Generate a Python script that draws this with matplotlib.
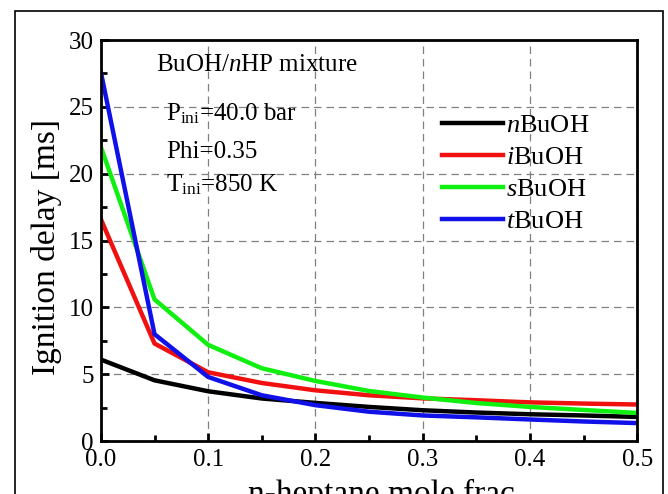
import matplotlib
matplotlib.use("Agg")
import matplotlib.pyplot as plt
from matplotlib.patches import Rectangle
from matplotlib.ticker import MultipleLocator

plt.rcParams['font.family'] = ['Liberation Serif', 'DejaVu Serif']
plt.rcParams['mathtext.fontset'] = 'custom'
plt.rcParams['mathtext.rm'] = 'Liberation Serif'
plt.rcParams['mathtext.it'] = 'Liberation Serif:italic'

# n-heptane mole fraction in the blend
x_nhp = [0.0, 0.05, 0.1, 0.15, 0.2, 0.25, 0.3, 0.35, 0.4, 0.45, 0.5]

# ignition delay [ms] for each butanol isomer
tau_n = [6.1, 4.55, 3.73, 3.19, 2.86, 2.56, 2.31, 2.14, 2.01, 1.92, 1.81]
tau_i = [16.6, 7.3, 5.15, 4.35, 3.8, 3.43, 3.2, 3.06, 2.9, 2.81, 2.74]
tau_s = [22.0, 10.6, 7.2, 5.45, 4.5, 3.75, 3.26, 2.85, 2.56, 2.33, 2.11]
tau_t = [27.6, 8.0, 4.8, 3.43, 2.69, 2.2, 1.92, 1.78, 1.62, 1.47, 1.35]

labels = [r'$n$BuOH', r'$i$BuOH', r'$s$BuOH', r'$t$BuOH']
colors = ['black', '#f01010', '#10f010', '#1010e8']

fig = plt.figure(figsize=(6.68, 4.94), dpi=100)
ax = fig.add_axes([0.151, 0.107, 0.803, 0.812])

# thin frame around the whole figure
fig.patches.append(Rectangle((0.0225, -0.2), 0.970, 1.1777, transform=fig.transFigure,
                             fill=False, edgecolor='black', linewidth=1.2))

for tau, lab, c in zip([tau_n, tau_i, tau_s, tau_t], labels, colors):
    ax.plot(x_nhp, tau, color=c, lw=3.2, label=lab)

ax.set_xlim(0, 0.5)
ax.set_ylim(0, 30)
ax.xaxis.set_major_locator(MultipleLocator(0.1))
ax.xaxis.set_minor_locator(MultipleLocator(0.05))
ax.yaxis.set_major_locator(MultipleLocator(5))
ax.yaxis.set_minor_locator(MultipleLocator(2.5))
ax.xaxis.set_major_formatter(matplotlib.ticker.FormatStrFormatter('%.1f'))
ax.tick_params(which='both', direction='in', top=False, right=False, labelsize=18,
               width=2)
ax.tick_params(axis='x', pad=6)
ax.tick_params(axis='y', pad=5)
ax.tick_params(which='major', length=6)
ax.tick_params(which='minor', length=4)
for sp in ax.spines.values():
    sp.set_linewidth(2)

ax.grid(True, which='major', color='#808080', linestyle=(0, (6, 4)), linewidth=0.9)

ax.set_xlabel('n-heptane mole frac.', fontsize=24, labelpad=8)
ax.xaxis.set_label_coords(0.53, -0.095, transform=ax.transAxes)
ax.xaxis.label.set_va('top')
ax.set_ylabel('Ignition delay [ms]', fontsize=24, labelpad=4)
ax.yaxis.set_label_coords(-0.073, 0.485)

ax.text(0.051, 28.1, r'BuOH/$n$HP mixture', fontsize=18, va='center')
ax.text(0.061, 24.5, r'P$_{\mathrm{ini}}$=40.0 bar', fontsize=18, va='center')
ax.text(0.061, 21.6, 'Phi=0.35', fontsize=18, va='center')
ax.text(0.061, 19.2, r'T$_{\mathrm{ini}}$=850 K', fontsize=18, va='center')

ax.legend(loc='upper left', bbox_to_anchor=(0.617, 0.842), frameon=False, fontsize=19,
          handlelength=2.3, handletextpad=0.1, labelspacing=0.32, borderaxespad=0)

fig.savefig('out.png', dpi=100)
